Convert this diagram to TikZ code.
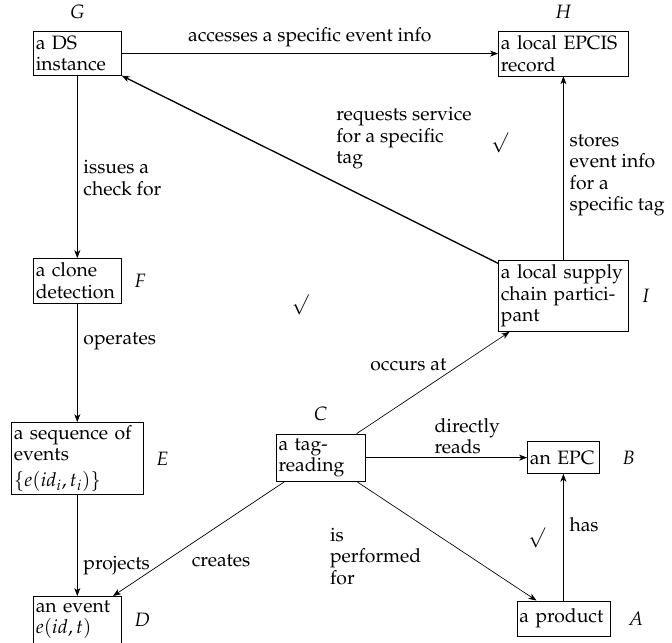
\documentclass[tikz,border=0pt]{standalone}
\usepackage[T1]{fontenc}
\usepackage{mathpazo}
\usepackage{amssymb}
\usetikzlibrary{arrows.meta}
\tikzset{
  cbox/.style={draw,thin,inner xsep=1.5pt,inner ysep=2.6pt,align=left,text width=#1},
  lettr/.style={label distance=4pt},
  rel/.style={->,thin},
  relstrong/.style={->,thick},
  rellab/.style={inner sep=1pt,align=left},
  tick/.style={inner sep=0pt}
}

\begin{document}
\begin{tikzpicture}[>={Stealth[length=4.8pt,width=3.6pt,inset=1.4pt]},font=\fontsize{11.6}{12.9}\selectfont]
  \useasboundingbox (0,0) rectangle (14.17,-13.54);
  % concepts
  \node[cbox=49.8pt,label={[lettr]above:$G$}] (G) at (1.63,-1.13) {a DS\\instance};
  \node[cbox=75pt,label={[lettr]above:$H$}] (H) at (11.88,-1.13) {a local EPCIS\\record};
  \node[cbox=49.8pt,label={[lettr]right:$F$}] (F) at (1.63,-5.92) {a clone\\detection};
  \node[cbox=75pt,label={[lettr]right:$I$}] (I) at (11.88,-6.24) {a local supply\\chain partici-\\pant};
  \node[cbox=76.2pt,inner ysep=1.8pt,label={[lettr]right:$E$}] (E) at (1.63,-9.67) {a sequence of\\events\\[2.5pt]$\{e(id_i,t_i)\}$};
  \node[cbox=50.4pt,label={[lettr]above:$C$}] (C) at (6.76,-9.65) {a tag-\\reading};
  \node[cbox=40.2pt,minimum height=19pt,label={[label distance=10pt]right:$B$}] (B) at (11.88,-9.65) {an EPC};
  \node[cbox=49.8pt,label={[lettr]right:$D$}] (D) at (1.63,-13.07) {an event\\$e(id,t)$};
  \node[cbox=52.8pt,minimum height=21pt,label={[label distance=7pt]right:$A$}] (A) at (11.88,-13.04) {a product};
  % relations
  \draw[rel] (G) -- (H) node[rellab,midway,above=3pt]{accesses a specific event info};
  \draw[rel] (G) -- (F) node[rellab,pos=0.56,right=2.5pt]{issues a\\check for};
  \draw[rel] (F) -- (E) node[rellab,pos=0.32,right=2.5pt]{operates};
  \draw[rel] (E) -- (D) node[rellab,pos=0.7,right=2.5pt]{projects};
  \draw[rel] (C) -- (D) node[rellab,pos=0.62,below right,xshift=7pt]{creates};
  \draw[rel] (C) -- (I) node[rellab,pos=0.6,above left]{occurs at};
  \draw[rel] (C) -- (B) node[rellab,pos=0.63,above=1pt]{directly\\reads};
  \draw[rel] (C) -- (A) node[rellab,pos=0.37,below left]{is\\performed\\for};
  \draw[rel] (A) -- (B) node[rellab,pos=0.6,right=2.5pt]{has};
  \draw[rel] (I) -- (H) node[rellab,pos=0.46,right=2.5pt]{stores\\event info\\for a\\specific tag};
  \draw[relstrong] (I) -- (G) node[rellab,pos=0.25,above=27pt]{requests service\\for a specific\\tag};
  % checked relations
  \node[tick] (chk1) at (10.54,-3.02) {$\surd$};
  \node[tick] (chk2) at (6.33,-6.43) {$\surd$};
  \node[tick] (chk3) at (11.32,-11.35) {$\surd$};
\end{tikzpicture}
\end{document}
